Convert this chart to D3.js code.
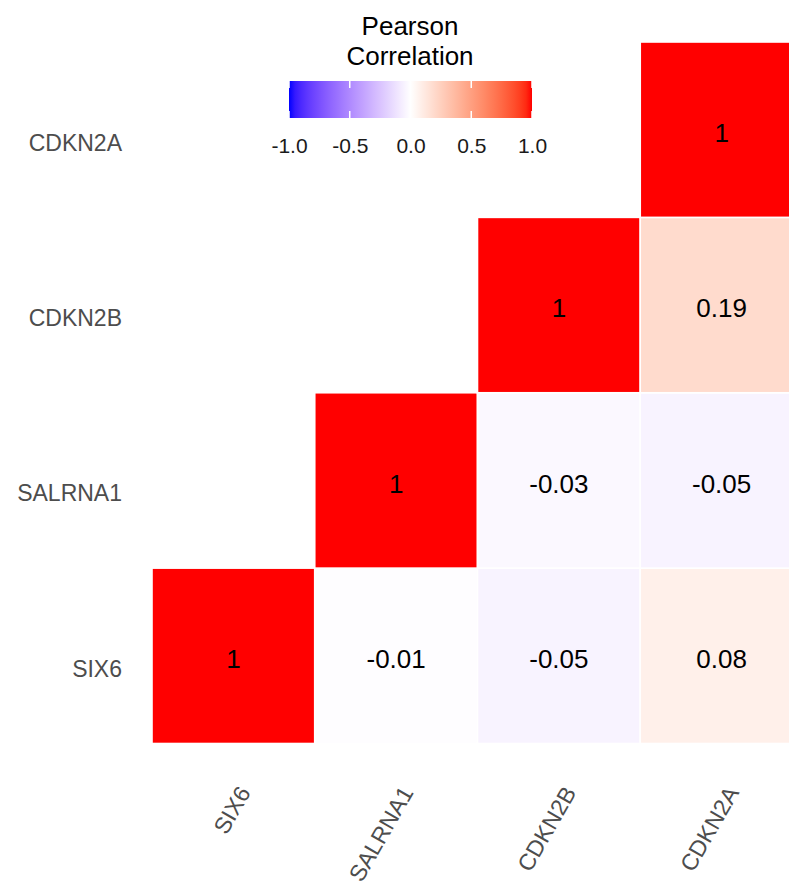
<!DOCTYPE html>
<html>
<head>
<meta charset="utf-8">
<script src="https://cdn.jsdelivr.net/npm/d3@7"></script>
<style>
  html, body { margin: 0; padding: 0; background: #fff; }
  svg { display: block; font-family: "Liberation Sans", Arial, sans-serif; }
</style>
</head>
<body>
<svg id="chart" width="789" height="888"></svg>
<script>
// ---- data ----
const genes = ["SIX6", "SALRNA1", "CDKN2B", "CDKN2A"];
// lower triangle cells: [column gene, row gene, value]
const colGene = ["SIX6", "SALRNA1", "CDKN2B", "CDKN2A", "SALRNA1", "CDKN2B", "CDKN2A", "CDKN2B", "CDKN2A", "CDKN2A"];
const rowGene = ["SIX6", "SIX6", "SIX6", "SIX6", "SALRNA1", "SALRNA1", "SALRNA1", "CDKN2B", "CDKN2B", "CDKN2A"];
const corrValues = [1, -0.01, -0.05, 0.08, 1, -0.03, -0.05, 1, 0.19, 1];
const legendTicks = [-1, -0.5, 0, 0.5, 1];
const legendTitle = ["Pearson", "Correlation"];

const cells = corrValues.map((v, i) => ({ x: colGene[i], y: rowGene[i], v }));

const svg = d3.select("#chart");

// ---- scales ----
const x = d3.scaleBand().domain(genes).range([152, 803]).padding(0);
const y = d3.scaleBand().domain(genes).range([743.5, 42]).padding(0);

const toRed = d3.interpolateLab("#ffffff", "#ff0000");
const toBlue = d3.interpolateLab("#ffffff", "#0000ff");
const color = v => v >= 0 ? toRed(v) : toBlue(-v);

// ---- tiles ----
svg.append("g").selectAll("rect")
  .data(cells).join("rect")
  .attr("x", d => x(d.x))
  .attr("y", d => y(d.y))
  .attr("width", x.bandwidth())
  .attr("height", y.bandwidth())
  .attr("fill", d => color(d.v))
  .attr("stroke", "#ffffff")
  .attr("stroke-width", 1.6);

// ---- cell labels ----
svg.append("g").selectAll("text")
  .data(cells).join("text")
  .attr("x", d => x(d.x) + x.bandwidth() / 2)
  .attr("y", d => y(d.y) + y.bandwidth() / 2 + 3)
  .attr("dy", "0.36em")
  .attr("text-anchor", "middle")
  .attr("font-size", 26)
  .attr("fill", "#000")
  .text(d => String(d.v));

// ---- y axis ----
const yAxis = svg.append("g")
  .attr("transform", "translate(152,0)")
  .call(d3.axisLeft(y).tickSize(0).tickPadding(30));
yAxis.select(".domain").remove();
yAxis.selectAll("text")
  .attr("font-size", 23)
  .attr("font-family", "Liberation Sans, Arial, sans-serif")
  .attr("fill", "#4d4d4d")
  .attr("dy", null)
  .attr("y", 21);

// ---- x axis ----
const xAxis = svg.append("g")
  .attr("transform", "translate(0,743.5)")
  .call(d3.axisBottom(x).tickSize(0));
xAxis.select(".domain").remove();
xAxis.selectAll("text")
  .attr("font-size", 23)
  .attr("font-family", "Liberation Sans, Arial, sans-serif")
  .attr("fill", "#4d4d4d")
  .attr("y", null)
  .attr("dy", null)
  .attr("text-anchor", "end")
  .attr("transform", "translate(18,49) rotate(-60)");

// ---- legend ----
const lx = d3.scaleLinear().domain([-1, 1]).range([289, 532]);
const defs = svg.append("defs");
const grad = defs.append("linearGradient").attr("id", "lg")
  .attr("x1", "0%").attr("x2", "100%").attr("y1", "0%").attr("y2", "0%");
d3.range(0, 41).forEach(i => {
  const v = -1 + i / 20;
  grad.append("stop").attr("offset", (i / 40 * 100) + "%").attr("stop-color", color(v));
});
svg.append("rect")
  .attr("x", lx(-1)).attr("y", 81)
  .attr("width", lx(1) - lx(-1)).attr("height", 37)
  .attr("fill", "url(#lg)");

// white tick marks inside bar (top and bottom)
const tickG = svg.append("g");
legendTicks.forEach(t => {
  tickG.append("line").attr("x1", lx(t)).attr("x2", lx(t)).attr("y1", 81).attr("y2", 88)
    .attr("stroke", "#fff").attr("stroke-width", 1.5);
  tickG.append("line").attr("x1", lx(t)).attr("x2", lx(t)).attr("y1", 111).attr("y2", 118)
    .attr("stroke", "#fff").attr("stroke-width", 1.5);
});

const lAxis = svg.append("g")
  .attr("transform", "translate(0,118)")
  .call(d3.axisBottom(lx).tickValues(legendTicks).tickFormat(d => d.toFixed(1)).tickSize(0));
lAxis.select(".domain").remove();
lAxis.selectAll("text")
  .attr("font-size", 21)
  .attr("font-family", "Liberation Sans, Arial, sans-serif")
  .attr("fill", "#1a1a1a")
  .attr("dy", null)
  .attr("y", 35);

svg.append("g").selectAll("text")
  .data(legendTitle).join("text")
  .attr("x", 410)
  .attr("y", (d, i) => 35 + i * 30)
  .attr("text-anchor", "middle")
  .attr("font-size", 26)
  .attr("fill", "#000")
  .text(d => d);
</script>
</body>
</html>
